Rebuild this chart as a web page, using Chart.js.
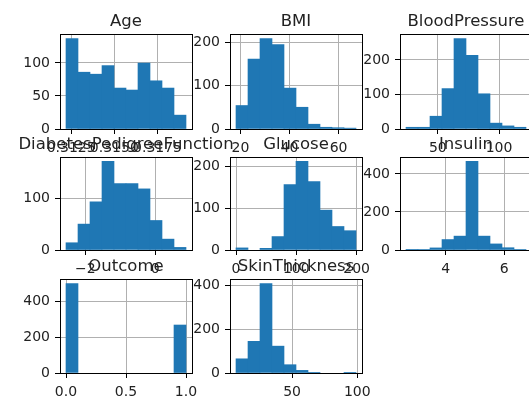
<!DOCTYPE html>
<html>
<head>
<meta charset="utf-8">
<script src="https://cdn.jsdelivr.net/npm/chart.js@4"></script>
<style>
    html, body { margin: 0; padding: 0; width: 529px; height: 401px; overflow: hidden; background: #fff; }
    canvas { position: absolute; }
</style>
</head>
<body>
<script>
// Column names, one histogram each (df.hist() style grid)
const columns = ['Age', 'BMI', 'BloodPressure', 'DiabetesPedigreeFunction', 'Glucose', 'Insulin', 'Outcome', 'SkinThickness'];

// First and last bin edge of each column
const binLo = [0.3122, 18.2, 24, -2.551, 0, 2.639, 0, 7];
const binHi = [0.31915, 67.1, 122, 0.884, 199, 6.741, 1, 99];

// Counts in the 10 bins
const ageCounts = [137, 86, 83, 96, 62, 59, 100, 73, 62, 21];
const bmiCounts = [54, 161, 208, 194, 94, 50, 11, 4, 3, 2];
const bpCounts = [5, 5, 37, 117, 262, 213, 102, 17, 9, 5];
const dpfCounts = [14, 50, 93, 171, 128, 128, 118, 57, 21, 5];
const glucoseCounts = [5, 0, 4, 32, 156, 211, 163, 95, 56, 46];
const insulinCounts = [1, 2, 11, 55, 73, 466, 73, 32, 12, 2];
const outcomeCounts = [500, 0, 0, 0, 0, 0, 0, 0, 0, 268];
const skinCounts = [65, 145, 410, 123, 38, 12, 1, 0, 0, 1];
const allCounts = [ageCounts, bmiCounts, bpCounts, dpfCounts, glucoseCounts, insulinCounts, outcomeCounts, skinCounts];

// Tick values and labels
const xTicks = [[0.3125, 0.3150, 0.3175], [20, 40, 60], [50, 100], [-2, 0], [0, 100, 200], [4, 6], [0, 0.5, 1], [50, 100]];
const xTickLabels = [['0.3125', '0.3150', '0.3175'], ['20', '40', '60'], ['50', '100'], ['\u22122', '0'], ['0', '100', '200'], ['4', '6'], ['0.0', '0.5', '1.0'], ['50', '100']];
const yTicks = [[0, 50, 100], [0, 100, 200], [0, 100, 200], [0, 100], [0, 100, 200], [0, 200, 400], [0, 200, 400], [0, 200, 400]];

// Grid geometry (page pixels)
const colLeft = [60, 230, 400];
const rowTop = [34, 157, 279];
const rowHeight = [95, 93, 94];
const axWidth = 132;
const PAD_L = 120;   // canvas space left of the axes
const PAD_R = 120;
const PAD_T = 25;    // room for the panel title
const PAD_B = 32;    // x axis height
const Y_W = 50;      // y axis width
const TEXT = '#222';
const FONT = 'DejaVu Sans';

// draws the black frame (all four spines)
const framePlugin = {
    id: 'frame',
    afterDraw(chart) {
        const { ctx, chartArea: a } = chart;
        ctx.save();
        ctx.strokeStyle = '#000';
        ctx.lineWidth = 1;
        ctx.strokeRect(Math.round(a.left) + 0.5, Math.round(a.top) + 0.5,
            Math.round(a.right - a.left), Math.round(a.bottom - a.top));
        ctx.restore();
    }
};

// title centred over the plot area, like matplotlib's ax.set_title
const titlePlugin = {
    id: 'panelTitle',
    afterDraw(chart, args, opts) {
        const { ctx, chartArea: a } = chart;
        ctx.save();
        ctx.font = '16.5px "' + FONT + '"';
        ctx.fillStyle = TEXT;
        ctx.textAlign = 'center';
        ctx.textBaseline = 'alphabetic';
        ctx.fillText(opts.text, (a.left + a.right) / 2, a.top - 8);
        ctx.restore();
    }
};

function drawPanel(i) {
    const col = i % 3;
    const row = Math.floor(i / 3);
    const counts = allCounts[i];
    const lo = binLo[i];
    const hi = binHi[i];
    const bin = (hi - lo) / counts.length;
    const margin = (hi - lo) * 0.05;
    const ymax = Math.max(...counts) * 1.05;

    const canvas = document.createElement('canvas');
    canvas.width = PAD_L + axWidth + PAD_R;
    canvas.height = PAD_T + rowHeight[row] + PAD_B;
    canvas.style.left = (colLeft[col] - PAD_L) + 'px';
    canvas.style.top = (rowTop[row] - PAD_T) + 'px';
    document.body.appendChild(canvas);

    const tickFont = { family: FONT, size: 14 };

    new Chart(canvas, {
        type: 'bar',
        data: {
            datasets: [{
                // empty bins get no bar at all
                data: counts.map((c, k) => ({ x: lo + bin * (k + 0.5), y: c === 0 ? null : c })),
                backgroundColor: '#1f77b4',
                borderWidth: 0,
                barPercentage: 1,
                categoryPercentage: 1
            }]
        },
        options: {
            responsive: false,
            animation: false,
            events: [],
            layout: {
                autoPadding: false,
                padding: { left: PAD_L - Y_W, right: PAD_R, top: PAD_T, bottom: 0 }
            },
            plugins: {
                legend: { display: false },
                tooltip: { enabled: false },
                panelTitle: { text: columns[i] }
            },
            scales: {
                x: {
                    type: 'linear',
                    bounds: 'data',
                    offset: false,
                    min: lo - margin,
                    max: hi + margin,
                    z: 1,
                    afterBuildTicks: s => { s.ticks = xTicks[i].map(v => ({ value: v })); },
                    afterFit: s => { s.height = PAD_B; },
                    grid: { color: '#b0b0b0', tickColor: '#000', tickLength: 5, offset: false },
                    border: { display: false },
                    ticks: {
                        autoSkip: false, maxRotation: 0, minRotation: 0, padding: 6,
                        color: TEXT, font: tickFont,
                        callback: (v, k) => xTickLabels[i][k]
                    }
                },
                y: {
                    type: 'linear',
                    bounds: 'data',
                    min: 0,
                    max: ymax,
                    z: 1,
                    afterBuildTicks: s => { s.ticks = yTicks[i].map(v => ({ value: v })); },
                    afterFit: s => { s.width = Y_W; },
                    grid: { color: '#b0b0b0', tickColor: '#000', tickLength: 5 },
                    border: { display: false },
                    ticks: {
                        autoSkip: false, padding: 5,
                        color: TEXT, font: tickFont,
                        callback: v => String(v)
                    }
                }
            }
        },
        plugins: [framePlugin, titlePlugin]
    });
}

document.addEventListener('DOMContentLoaded', () => {
    columns.forEach((name, i) => drawPanel(i));
});
</script>
</body>
</html>
